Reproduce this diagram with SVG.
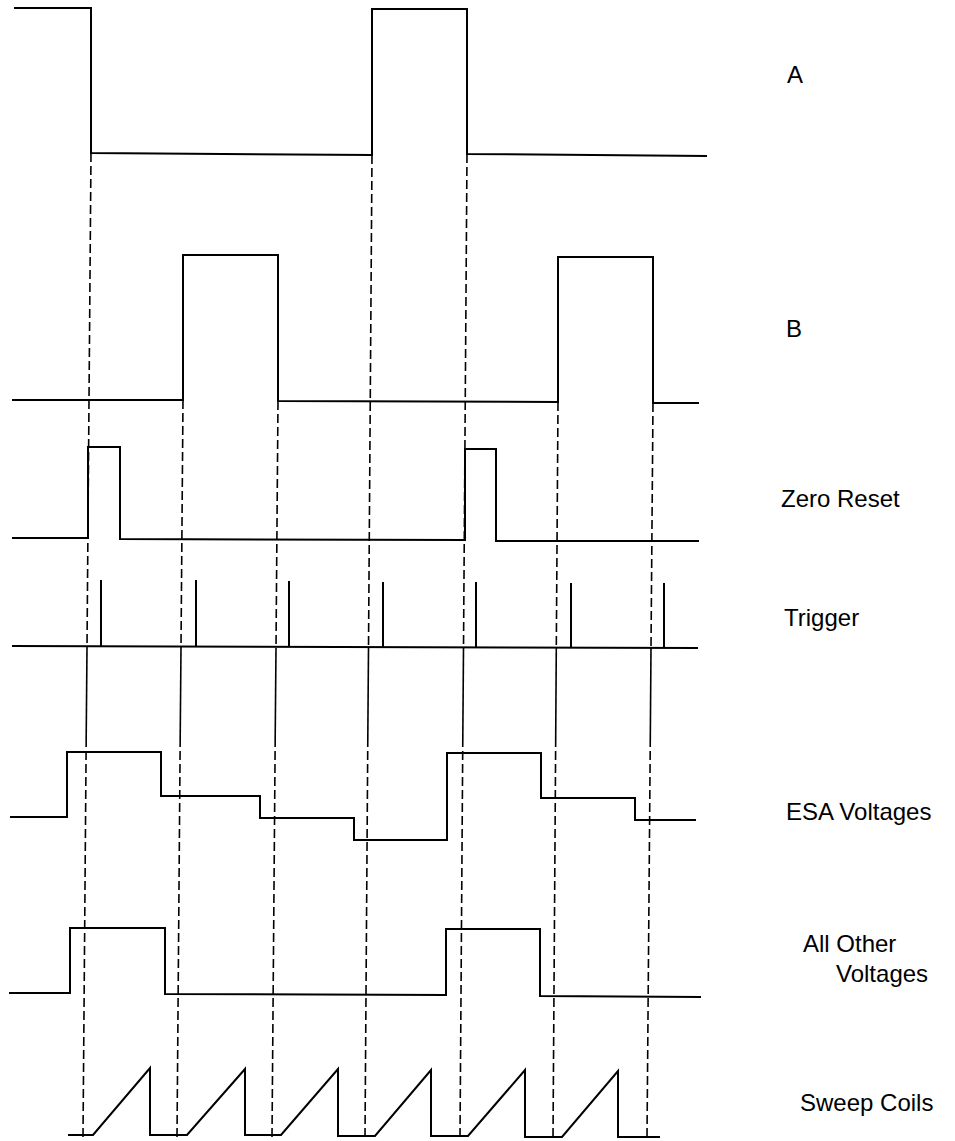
<svg xmlns="http://www.w3.org/2000/svg" width="955" height="1141" viewBox="0 0 955 1141">
<style>
.w{fill:none;stroke:#000;stroke-width:2;stroke-linejoin:miter}
.d{fill:none;stroke:#000;stroke-width:1.6;stroke-dasharray:9 4}
.s{fill:none;stroke:#000;stroke-width:1.6}
.t{font-family:"Liberation Sans",Arial,sans-serif;font-size:24px;fill:#000}
</style>
<rect width="955" height="1141" fill="#fff"/>
<g id="connectors">
<path class="d" d="M91,153 L87,648 M86.2,738 L83,1137"/>
<path class="s" d="M87,648 L86.2,738"/>
<path class="d" d="M183,400 L181,648 M180.2,738 L177,1137"/>
<path class="s" d="M181,648 L180.2,738"/>
<path class="d" d="M278,401 L276,648 M275.2,738 L272,1137"/>
<path class="s" d="M276,648 L275.2,738"/>
<path class="d" d="M372,155 L368.5,648 M367.8,738 L365,1137"/>
<path class="s" d="M368.5,648 L367.8,738"/>
<path class="d" d="M467,154 L463.5,648 M462.8,738 L460,1137"/>
<path class="s" d="M463.5,648 L462.8,738"/>
<path class="d" d="M558,402 L556.3,648 M555.7,738 L553,1137"/>
<path class="s" d="M556.3,648 L555.7,738"/>
<path class="d" d="M653,403 L651,648 M650.3,738 L647,1137"/>
<path class="s" d="M651,648 L650.3,738"/>
</g>
<g id="signal-a">
<path class="w" d="M14,8 H91 V153 L372,155 V9 H467 V154 L707,156"/>
<text class="t" x="787" y="83">A</text>
</g>
<g id="signal-b">
<path class="w" d="M12,400 H183 V255 H278 V401 L558,402 V257 H653 V403 H699"/>
<text class="t" x="786" y="337">B</text>
</g>
<g id="zero-reset">
<path class="w" d="M12,538 H88 V447 H120 V539 L465,540 V449 H496 V541 H699"/>
<text class="t" x="781" y="507">Zero Reset</text>
</g>
<g id="trigger">
<path class="w" d="M12,646 L698,648"/>
<path class="w" d="M101,646 V580 M196,646 V580 M289,646.5 V581 M383,647 V582 M476,647 V582 M571,647.5 V583 M664,648 V583"/>
<text class="t" x="784" y="626">Trigger</text>
</g>
<g id="esa-voltages">
<path class="w" d="M10,817 H67 V752 H161 V796 H260 V818 H354 V840 H447 V753 H541 V798 H635 V820 H696"/>
<text class="t" x="786" y="820">ESA Voltages</text>
</g>
<g id="all-other-voltages">
<path class="w" d="M9,993 H70 V928 H165 V994 L446,995 V929 H540 V996 L701,997"/>
<text class="t" x="803" y="952">All Other</text>
<text class="t" x="836" y="982">Voltages</text>
</g>
<g id="sweep-coils">
<path class="w" d="M68,1135 H93 L150,1068 V1135 H187 L245,1069 V1135 H281 L338,1069 V1136 H375 L431,1070 V1136 H468 L525,1070 V1137 H562 L618,1071 V1137 H660"/>
<text class="t" x="800" y="1111">Sweep Coils</text>
</g>
</svg>
